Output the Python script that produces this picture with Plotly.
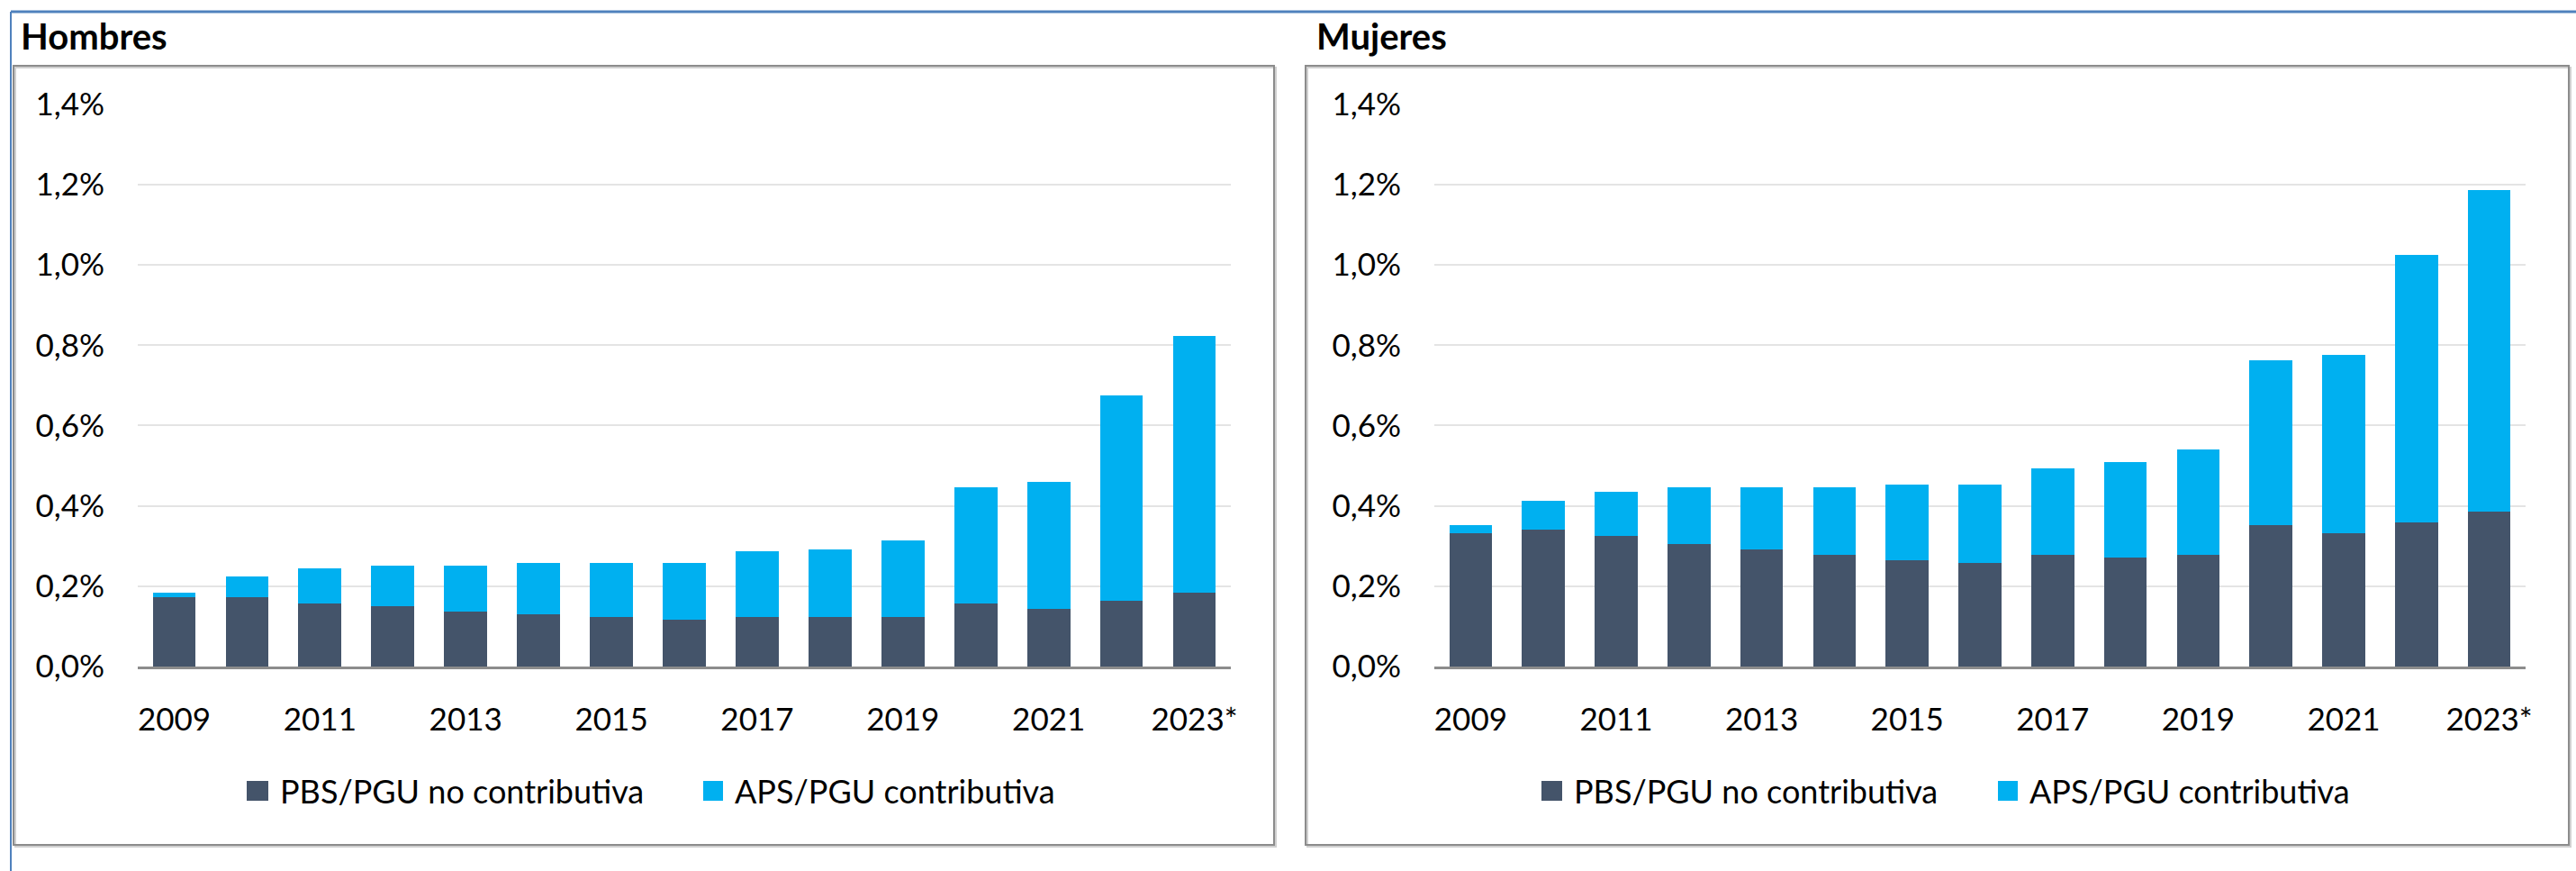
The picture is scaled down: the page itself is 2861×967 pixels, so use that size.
import plotly.graph_objects as go

W, H = 2861, 967

years = ["2009", "2010", "2011", "2012", "2013", "2014", "2015", "2016",
         "2017", "2018", "2019", "2020", "2021", "2022", "2023*"]
tick_years = ["2009", "2011", "2013", "2015", "2017", "2019", "2021", "2023*"]

series_names = ["PBS/PGU no contributiva", "APS/PGU contributiva"]
series_colors = ["#44546A", "#00B0F0"]
panel_titles = ["Hombres", "Mujeres"]

# Hombres (%)
hombres_pbs = [0.172, 0.172, 0.158, 0.151, 0.137, 0.130, 0.124, 0.117,
               0.124, 0.124, 0.124, 0.158, 0.144, 0.164, 0.184]
hombres_aps = [0.012, 0.052, 0.087, 0.101, 0.115, 0.128, 0.134, 0.141,
               0.162, 0.168, 0.189, 0.289, 0.316, 0.512, 0.640]

# Mujeres (%)
mujeres_pbs = [0.333, 0.340, 0.325, 0.306, 0.291, 0.278, 0.265, 0.258,
               0.278, 0.272, 0.278, 0.353, 0.333, 0.359, 0.386]
mujeres_aps = [0.020, 0.073, 0.109, 0.141, 0.156, 0.169, 0.189, 0.196,
               0.216, 0.236, 0.263, 0.410, 0.443, 0.666, 0.801]

y_ticks = [0.0, 0.2, 0.4, 0.6, 0.8, 1.0, 1.2, 1.4]
y_tick_labels = ["0,0%", "0,2%", "0,4%", "0,6%", "0,8%", "1,0%", "1,2%", "1,4%"]

FONT = "Lato, 'Open Sans', sans-serif"


def px(x):
    return x / W


def py(y):
    return 1 - y / H


fig = go.Figure()

panels = [(hombres_pbs, hombres_aps), (mujeres_pbs, mujeres_aps)]
for i, (pbs, aps) in enumerate(panels):
    xa = "x" if i == 0 else "x2"
    ya = "y" if i == 0 else "y2"
    for name, vals, col in zip(series_names, (pbs, aps), series_colors):
        fig.add_trace(go.Bar(
            x=years, y=vals, name=name, marker=dict(color=col, line=dict(width=0)),
            xaxis=xa, yaxis=ya, showlegend=False,
            hovertemplate="%{x}: %{y:.2f}%<extra>" + name + "</extra>",
        ))

# plot areas (pixel positions)
plot_x = [(153, 1367), (1593, 2805)]
plot_y = (115.7, 740)

axis_common_x = dict(
    type="category", categoryorder="array", categoryarray=years,
    tickmode="array", tickvals=tick_years, ticktext=tick_years,
    showline=True, linecolor="#8C8C8C", linewidth=3,
    showgrid=False, zeroline=False, ticks="",
    tickfont=dict(family=FONT, size=35, color="black"),
    ticklabelstandoff=26, fixedrange=True,
)
axis_common_y = dict(
    range=[0, 1.4], tickmode="array", tickvals=y_ticks, ticktext=y_tick_labels,
    showgrid=True, gridcolor="#E4E4E4", gridwidth=2,
    zeroline=False, showline=False, ticks="",
    tickfont=dict(family=FONT, size=35, color="black"),
    ticklabelstandoff=36, fixedrange=True,
)

layout = dict(
    width=W, height=H, margin=dict(l=0, r=0, t=0, b=0, pad=0, autoexpand=False),
    paper_bgcolor="white", plot_bgcolor="white",
    barmode="stack", bargap=0.41,
    showlegend=False,
    font=dict(family=FONT, color="black"),
)
for i in range(2):
    sx = "" if i == 0 else "2"
    layout["xaxis" + sx] = dict(axis_common_x, domain=[px(plot_x[i][0]), px(plot_x[i][1])],
                                anchor="y" + sx, automargin=False)
    layout["yaxis" + sx] = dict(axis_common_y, domain=[py(plot_y[1]), py(plot_y[0])],
                                anchor="x" + sx, automargin=False)
fig.update_layout(**layout)

shapes = []
annotations = []

# outer blue frame
shapes.append(dict(type="line", xref="paper", yref="paper", x0=px(12), x1=1, y0=py(13), y1=py(13),
                   line=dict(color="#4F81BD", width=3)))
shapes.append(dict(type="line", xref="paper", yref="paper", x0=px(12), x1=px(12), y0=py(13), y1=0,
                   line=dict(color="#4F81BD", width=2)))

boxes = [(15, 73, 1415, 938), (1450, 73, 2853, 938)]
title_x = [21, 1460]
legend_sq = [[(274, 298), (781, 803)], [(1712, 1735), (2219, 2241)]]
for i, (x0, y0, x1, y1) in enumerate(boxes):
    shapes.append(dict(type="rect", xref="paper", yref="paper",
                       x0=px(x0 + 2), x1=px(x1 + 2), y0=py(y0 + 2), y1=py(y1 + 2),
                       line=dict(color="#D0D0D0", width=2), fillcolor="rgba(0,0,0,0)", layer="below"))
    shapes.append(dict(type="rect", xref="paper", yref="paper",
                       x0=px(x0), x1=px(x1), y0=py(y0), y1=py(y1),
                       line=dict(color="#8C8C8C", width=2), fillcolor="rgba(0,0,0,0)", layer="below"))
    annotations.append(dict(xref="paper", yref="paper", x=px(title_x[i]), y=py(40),
                            xanchor="left", yanchor="middle", showarrow=False,
                            text="<b>" + panel_titles[i] + "</b>",
                            font=dict(family=FONT, size=40, color="black")))
    for (sx0, sx1), name, col in zip(legend_sq[i], series_names, series_colors):
        shapes.append(dict(type="rect", xref="paper", yref="paper",
                           x0=px(sx0), x1=px(sx1), y0=py(889), y1=py(867),
                           line=dict(width=0), fillcolor=col))
        annotations.append(dict(xref="paper", yref="paper", x=px(sx1 + 11), y=py(878),
                                xanchor="left", yanchor="middle", showarrow=False,
                                text=name, font=dict(family=FONT, size=36, color="black")))

fig.update_layout(shapes=shapes, annotations=annotations)

fig.write_html("out.html", config={"displayModeBar": False},
               post_script="document.body.style.margin='0';document.body.style.overflow='hidden';")
